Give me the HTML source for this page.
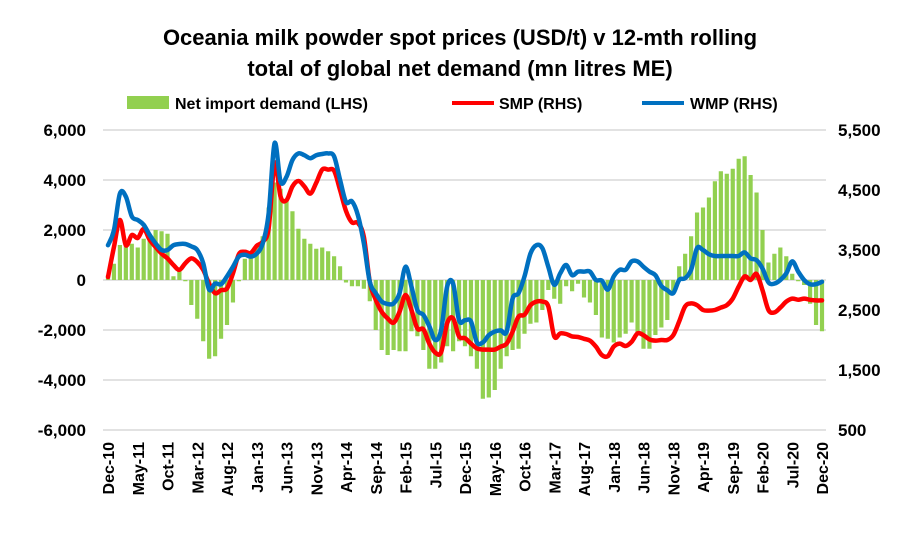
<!DOCTYPE html>
<html><head><meta charset="utf-8"><style>
html,body{margin:0;padding:0;background:#fff;}
svg{display:block;font-family:"Liberation Sans",sans-serif;}
</style></head><body>
<svg id="chart" width="922" height="539">
<text x="460" y="45" text-anchor="middle" font-size="22" font-weight="bold" fill="#000">Oceania milk powder spot prices (USD/t) v 12-mth rolling</text>
<text x="460" y="76" text-anchor="middle" font-size="22" font-weight="bold" fill="#000">total of global net demand (mn litres ME)</text>
<g>
<rect x="127" y="96" width="42" height="13" fill="#92d050"/>
<text x="175" y="109" font-size="16" font-weight="bold">Net import demand (LHS)</text>
<line x1="452" y1="103" x2="494" y2="103" stroke="#ff0000" stroke-width="4"/>
<text x="499" y="109" font-size="16" font-weight="bold">SMP (RHS)</text>
<line x1="642" y1="103" x2="684" y2="103" stroke="#0070c0" stroke-width="4"/>
<text x="690" y="109" font-size="16" font-weight="bold">WMP (RHS)</text>
</g>
<g id="grid"></g><g id="bars"></g><g id="lines"></g><g id="axes"></g>
</svg>
<script>
const xLabels=["Dec-10","May-11","Oct-11","Mar-12","Aug-12","Jan-13","Jun-13","Nov-13","Apr-14","Sep-14","Feb-15","Jul-15","Dec-15","May-16","Oct-16","Mar-17","Aug-17","Jan-18","Jun-18","Nov-18","Apr-19","Sep-19","Feb-20","Jul-20","Dec-20"];
const leftTicks=[6000,4000,2000,0,-2000,-4000,-6000];
const rightTicks=[5500,4500,3500,2500,1500,500];
const netDemand=[200,650,1400,1350,1450,1300,1650,1850,2000,1950,1850,150,450,-50,-1000,-1550,-2450,-3150,-3050,-2350,-1800,-900,-50,850,950,1350,1750,2900,3900,3650,3250,2750,2050,1650,1450,1250,1300,1150,950,550,-100,-250,-250,-350,-850,-2000,-2800,-3000,-2800,-2850,-2850,-2050,-2250,-2800,-3550,-3550,-3300,-2650,-2850,-2450,-2650,-3050,-3550,-4750,-4700,-4400,-3550,-3050,-2800,-2750,-2150,-1750,-1700,-1200,-400,-750,-950,-250,-450,-150,-700,-900,-1400,-2300,-2350,-2500,-2300,-2150,-1700,-2100,-2750,-2750,-2200,-1900,-1600,-500,550,1050,1750,2700,2900,3300,3950,4350,4250,4450,4850,4950,4200,3500,2000,700,1050,1300,950,250,-50,-200,-950,-1800,-2050];
const smp=[3050,3550,4000,3580,3750,3700,3850,3670,3550,3440,3360,3250,3170,3280,3360,3300,3170,2940,2780,2830,2860,3110,3430,3470,3450,3570,3640,3860,4950,4390,4330,4560,4650,4560,4440,4620,4840,4840,4820,4500,4150,3960,3950,3720,2970,2670,2470,2360,2290,2470,2750,2500,2190,2180,1940,1790,1800,2280,2360,2060,2030,1940,1860,1840,1840,1840,1890,1940,2140,2390,2420,2580,2640,2640,2560,2060,2110,2100,2060,2050,2020,1990,1890,1750,1730,1890,1940,1900,1970,2110,2080,2010,1990,2000,2000,2080,2310,2560,2610,2580,2500,2490,2500,2540,2580,2690,2890,3060,3000,3100,2830,2500,2460,2540,2640,2690,2670,2690,2670,2660,2660];
const wmp=[3580,3830,4440,4390,4060,4000,3920,3750,3610,3500,3500,3580,3600,3600,3560,3500,3280,2840,2940,2930,3060,3220,3390,3420,3390,3440,3610,4110,5280,4640,4720,5000,5110,5080,5030,5080,5100,5110,5060,4670,4300,4310,4080,3610,2970,2780,2640,2600,2610,2780,3220,2890,2500,2420,2230,2000,2170,2890,2940,2330,2330,2310,1960,1960,2080,2140,2160,2140,2690,2780,3060,3440,3580,3530,3220,2920,3110,3250,3080,3140,3140,3140,3000,2990,2840,3060,3170,3170,3310,3310,3220,3140,3080,2900,2830,2780,3000,3030,3170,3530,3500,3430,3400,3400,3400,3400,3400,3460,3360,3330,3190,2960,2940,3000,3110,3310,3140,3000,2930,2930,2970];

const NS="http://www.w3.org/2000/svg";
const x0=108,dx=5.95;
const xS=i=>x0+dx*i;
const yL=v=>280-v*50/2000;
const yR=v=>130+(5500-v)*60/1000;
function mk(tag,attrs,parent,txt){const e=document.createElementNS(NS,tag);for(const k in attrs)e.setAttribute(k,attrs[k]);if(txt!==undefined)e.textContent=txt;parent.appendChild(e);return e;}
const grid=document.getElementById('grid'),bars=document.getElementById('bars'),lines=document.getElementById('lines'),axes=document.getElementById('axes');
leftTicks.forEach(v=>{
  const g=mk('line',{x1:103,x2:826,y1:yL(v),y2:yL(v),stroke:'#d9d9d9','stroke-width':1.5},grid);
  
  
  const t=mk('text',{x:86,y:yL(v)+6,'text-anchor':'end','font-size':17,'font-weight':'bold'},axes,v.toLocaleString('en-US'));
  
  
});
rightTicks.forEach(v=>{
  const t=mk('text',{x:838,y:yR(v)+6,'text-anchor':'start','font-size':17,'font-weight':'bold'},axes,v.toLocaleString('en-US'));
  
  
});
netDemand.forEach((v,i)=>{
  const y=Math.min(yL(v),yL(0)),h=Math.abs(yL(v)-yL(0));
  const r=mk('rect',{x:xS(i)-2.1,y:y,width:4.2,height:h,fill:'#92d050'},bars);
  
  
});
function smoothPath(pts){
  let d='M'+pts[0][0]+','+pts[0][1];
  for(let i=0;i<pts.length-1;i++){
    const p0=pts[Math.max(0,i-1)],p1=pts[i],p2=pts[i+1],p3=pts[Math.min(pts.length-1,i+2)];
    const c1x=p1[0]+(p2[0]-p0[0])/6,c1y=p1[1]+(p2[1]-p0[1])/6;
    const c2x=p2[0]-(p3[0]-p1[0])/6,c2y=p2[1]-(p3[1]-p1[1])/6;
    d+=' C'+c1x+','+c1y+' '+c2x+','+c2y+' '+p2[0]+','+p2[1];
  }
  return d;
}
function line(arr,color,name){
  const p=mk('path',{d:smoothPath(arr.map((v,i)=>[xS(i),yR(v)])),fill:'none',stroke:color,'stroke-width':4.5,'stroke-linejoin':'round','stroke-linecap':'round'},lines);
  
  
}
line(smp,'#ff0000','smp-line');
line(wmp,'#0070c0','wmp-line');
xLabels.forEach((l,k)=>{
  const x=xS(k*5)+6;
  const t=mk('text',{x:0,y:0,transform:'translate('+x+',442) rotate(-90)','text-anchor':'end','font-size':16,'font-weight':'bold'},axes,l);
  
  
});
</script>
</body></html>
